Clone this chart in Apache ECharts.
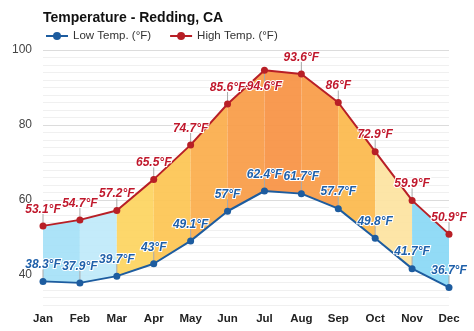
<!DOCTYPE html>
<html>
<head>
<meta charset="utf-8">
<script src="https://cdn.jsdelivr.net/npm/echarts@6/dist/echarts.min.js"></script>
<style>html,body{margin:0;padding:0;background:#fff;}#c{width:474px;height:331px;}</style>
</head>
<body>
<div id="c"></div>
<script>
const months = ['Jan','Feb','Mar','Apr','May','Jun','Jul','Aug','Sep','Oct','Nov','Dec'];
const highTemp = [53.1, 54.7, 57.2, 65.5, 74.7, 85.6, 94.6, 93.6, 86, 72.9, 59.9, 50.9];
const lowTemp = [38.3, 37.9, 39.7, 43, 49.1, 57, 62.4, 61.7, 57.7, 49.8, 41.7, 36.7];
const majorTicks = [40, 60, 80, 100];

const segColors = ['#a6e1f8','#bfe9fa','#fdd460','#fdc553','#fbad4b','#f99c47','#f79244','#f99c47','#fcb94c','#fde3a0','#8ad8f5'];
const HIGH_COLOR = '#b81f26';
const LOW_COLOR = '#1d5c9f';
const FLIP_ABOVE = 94; // labels too close to the plot top are drawn below the point

const segData = [];
for (let i = 0; i < months.length - 1; i++) {
  segData.push([i, lowTemp[i], highTemp[i], lowTemp[i + 1], highTemp[i + 1]]);
}
const leaderData = months.map((m, i) => [i, lowTemp[i], highTemp[i]]);

const chart = echarts.init(document.getElementById('c'), null, {renderer: 'canvas'});
const labelCommon = {
  show: true, position: 'top', distance: 7,
  fontFamily: 'Liberation Sans, Arial, sans-serif', fontSize: 12, fontWeight: 'bold', fontStyle: 'italic',
  textBorderColor: '#fff', textBorderWidth: 2,
  formatter: p => p.value + '°F'
};
const highData = highTemp.map(v => v >= FLIP_ABOVE
  ? {value: v, label: {position: 'bottom', distance: 7}}
  : v);
chart.setOption({
  animation: false,
  textStyle: {fontFamily: 'Liberation Sans, Arial, sans-serif'},
  title: {
    text: 'Temperature - Redding, CA', left: 38, top: 6,
    textStyle: {fontSize: 14, fontWeight: 'bold', color: '#111'}
  },
  legend: {
    data: ['Low Temp. (°F)', 'High Temp. (°F)'],
    left: 40, top: 25, itemWidth: 22, itemHeight: 10, itemGap: 18,
    textStyle: {fontSize: 11.5, color: '#333'}
  },
  grid: {left: 43, right: 25, top: 50, bottom: 26},
  xAxis: {
    type: 'category', data: months, boundaryGap: false,
    axisLine: {show: false}, axisTick: {show: false},
    axisLabel: {fontSize: 11.5, fontWeight: 'bold', color: '#222', margin: 8}
  },
  yAxis: {
    type: 'value', min: 32, max: 100, interval: 2,
    axisLine: {show: false}, axisTick: {show: false},
    splitLine: {lineStyle: {color: '#f0f0f0', width: 1}},
    axisLabel: {fontSize: 12, color: '#444', margin: 11,
      formatter: v => (majorTicks.indexOf(v) >= 0 ? String(v) : '')}
  },
  series: [
    {
      type: 'custom', z: 1, silent: true,
      data: segData,
      renderItem: function (params, api) {
        const i = api.value(0);
        const p1 = api.coord([i, api.value(1)]);
        const p2 = api.coord([i + 1, api.value(3)]);
        const p3 = api.coord([i + 1, api.value(4)]);
        const p4 = api.coord([i, api.value(2)]);
        return {
          type: 'polygon',
          shape: {points: [p1, p2, p3, p4]},
          style: {fill: segColors[i], opacity: 0.93}
        };
      },
      markLine: {
        silent: true, symbol: ['none', 'none'], z: 0,
        label: {show: false},
        lineStyle: {color: '#dcdcdc', type: 'solid', width: 1},
        data: majorTicks.map(v => ({yAxis: v}))
      }
    },
    {
      type: 'custom', z: 2, silent: true,
      data: leaderData,
      renderItem: function (params, api) {
        const i = api.value(0);
        const hv = api.value(2);
        const a = api.coord([i, api.value(1)]);
        const b = api.coord([i, hv]);
        const dir = hv >= FLIP_ABOVE ? 1 : -1;
        const st = {stroke: '#a9a9a9', lineWidth: 1};
        return {
          type: 'group',
          children: [
            {type: 'line', shape: {x1: a[0], y1: a[1], x2: a[0], y2: a[1] - 12}, style: st},
            {type: 'line', shape: {x1: b[0], y1: b[1], x2: b[0], y2: b[1] + dir * 12}, style: st}
          ]
        };
      }
    },
    {
      name: 'Low Temp. (°F)', type: 'line', z: 3, data: lowTemp,
      symbol: 'circle', symbolSize: 7,
      itemStyle: {color: LOW_COLOR},
      lineStyle: {color: LOW_COLOR, width: 2},
      label: Object.assign({}, labelCommon, {color: '#1f60aa'})
    },
    {
      name: 'High Temp. (°F)', type: 'line', z: 3, data: highData,
      symbol: 'circle', symbolSize: 7,
      itemStyle: {color: HIGH_COLOR},
      lineStyle: {color: HIGH_COLOR, width: 2},
      label: Object.assign({}, labelCommon, {color: '#c0182c'})
    }
  ]
});
</script>
</body>
</html>
